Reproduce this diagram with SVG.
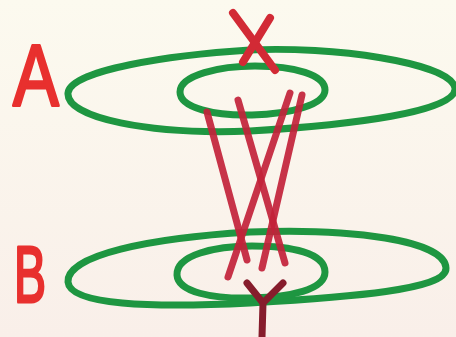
<svg xmlns="http://www.w3.org/2000/svg" width="456" height="337" viewBox="0 0 456 337">
<defs>
<linearGradient id="bg" x1="0" y1="0" x2="0" y2="1">
<stop offset="0" stop-color="#fcfaef"/>
<stop offset="1" stop-color="#f9efe9"/>
</linearGradient>
</defs>
<style>
.g{fill:none;stroke:#1e9641;stroke-width:7;stroke-linecap:round;stroke-linejoin:round}
.r{fill:none;stroke:#c2223a;stroke-width:7;stroke-linecap:round;opacity:0.92}
.x{fill:none;stroke:#d22a35;stroke-width:8;stroke-linecap:round}
.y{fill:none;stroke:#861c2c;stroke-width:7;stroke-linecap:round}
.lbl{font-family:"Liberation Sans",Arial,sans-serif;fill:#e8302e;stroke:#e8302e;stroke-width:3;stroke-linejoin:round}
</style>
<rect width="456" height="337" fill="url(#bg)"/>
<g id="A">
<text class="lbl" font-size="88" transform="translate(13,106) scale(0.78,1)">A</text>
<path class="g" d="M68,93 C70,70 170,55 250,50 C330,46 450,62 455,88 C458,112 350,125 250,131 C150,135 66,118 68,93 Z"/>
<path class="g" d="M180,92 C180,75 220,66 255,66 C295,66 325,75 325,90 C325,105 290,114 252,115 C215,116 180,108 180,92 Z"/>
</g>
<g id="B">
<text class="lbl" font-size="80" transform="translate(14,302) scale(0.6,1)">B</text>
<path class="g" d="M68,282 C66,255 150,238 250,232 C350,228 445,240 446,268 C447,290 350,297 250,303 C150,308 70,305 68,282 Z"/>
<path class="g" d="M177,275 C176,255 215,246 252,246 C292,246 325,253 325,272 C325,290 290,297 252,298 C212,299 178,292 177,275 Z"/>
</g>
<g id="connectors">
<line class="x" x1="233" y1="13" x2="275" y2="70"/>
<line class="x" x1="270" y1="18" x2="243" y2="62"/>
<line class="r" x1="207" y1="112" x2="247" y2="260"/>
<line class="r" x1="238" y1="100" x2="285" y2="263"/>
<line class="r" x1="290" y1="93" x2="228" y2="277"/>
<line class="r" x1="302" y1="95" x2="262" y2="268"/>
<path class="y" d="M247,283 L263,303 L283,283 M263,303 L262,337"/>
</g>
</svg>
